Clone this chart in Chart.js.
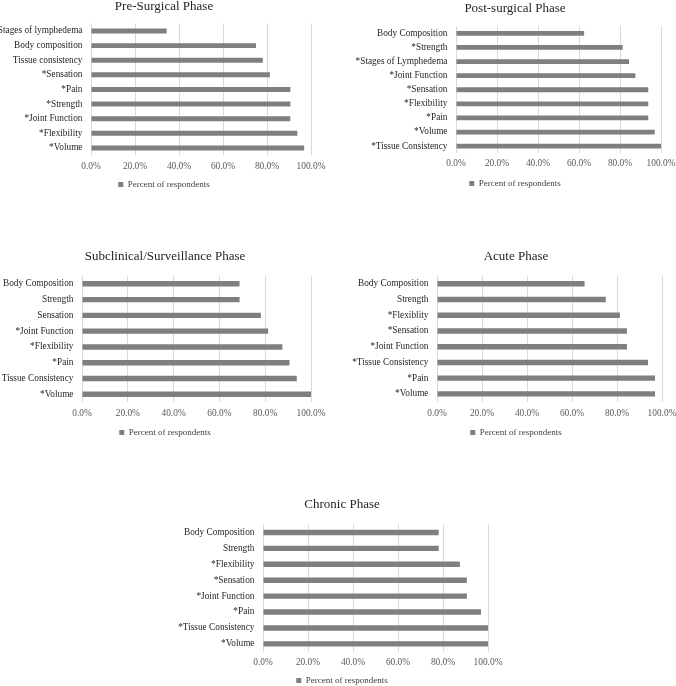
<!DOCTYPE html>
<html>
<head>
<meta charset="utf-8">
<script src="https://cdn.jsdelivr.net/npm/chart.js@4.4.1/dist/chart.umd.min.js"></script>
<style>
  html, body { margin: 0; padding: 0; background: #fff; overflow: hidden; }
  body { width: 676px; height: 686px; position: relative; }
  canvas { position: absolute; }
</style>
</head>
<body>
<canvas id="pre"></canvas>
<canvas id="post"></canvas>
<canvas id="sub"></canvas>
<canvas id="acute"></canvas>
<canvas id="chronic"></canvas>
<script>
// data (percent of respondents)
const tickValues = [0, 20, 40, 60, 80, 100];
const seriesName = 'Percent of respondents';

const preLabels = ['Stages of lymphedema', 'Body composition', 'Tissue consistency', '*Sensation', '*Pain',
    '*Strength', '*Joint Function', '*Flexibility', '*Volume'];
const preValues = [34.4, 75.0, 78.1, 81.3, 90.6, 90.6, 90.6, 93.8, 96.9];

const postLabels = ['Body Composition', '*Strength', '*Stages of Lymphedema', '*Joint Function', '*Sensation',
    '*Flexibility', '*Pain', '*Volume', '*Tissue Consistency'];
const postValues = [62.5, 81.3, 84.4, 87.5, 93.8, 93.8, 93.8, 96.9, 100.0];

const subLabels = ['Body Composition', 'Strength', 'Sensation', '*Joint Function', '*Flexibility', '*Pain',
    'Tissue Consistency', '*Volume'];
const subValues = [68.8, 68.8, 78.1, 81.3, 87.5, 90.6, 93.8, 100.0];

const acuteLabels = ['Body Composition', 'Strength', '*Flexiblity', '*Sensation', '*Joint Function',
    '*Tissue Consistency', '*Pain', '*Volume'];
const acuteValues = [65.6, 75.0, 81.3, 84.4, 84.4, 93.8, 96.9, 96.9];

const chronicLabels = ['Body Composition', 'Strength', '*Flexibility', '*Sensation', '*Joint Function', '*Pain',
    '*Tissue Consistency', '*Volume'];
const chronicValues = [78.1, 78.1, 87.5, 90.6, 90.6, 96.9, 100.0, 100.0];

const FONT = 'Liberation Serif';

// cl/cr: canvas left/right, pl/pr: plot left/right, top/bottom: plot area,
// titleY / tickY / legendY: text centre lines (page coordinates)
function drawPhase(id, title, labels, values, box) {
    const titleLH = 13 * 1.2;
    const cy = box.titleY - titleLH / 2;
    const xH = 16;
    const legendPad = box.legendY - box.bottom - xH - 4.5;
    const legendH = 9 + legendPad + 10;
    const w = box.cr - box.cl;
    const h = box.bottom - cy + xH + legendH;

    const canvas = document.getElementById(id);
    canvas.width = w;
    canvas.height = h;
    canvas.style.left = box.cl + 'px';
    canvas.style.top = cy + 'px';

    return new Chart(canvas.getContext('2d'), {
        type: 'bar',
        data: {
            labels: labels,
            datasets: [{
                label: seriesName,
                data: values,
                backgroundColor: '#7f7f7f',
                borderWidth: 0,
                barPercentage: 0.34,
                categoryPercentage: 1
            }]
        },
        options: {
            indexAxis: 'y',
            responsive: false,
            animation: false,
            devicePixelRatio: 1,
            layout: { padding: 0 },
            scales: {
                x: {
                    min: 0,
                    max: 100,
                    afterBuildTicks: s => { s.ticks = tickValues.map(v => ({ value: v })); },
                    afterFit: s => { s.height = xH; },
                    grid: { color: '#d9d9d9', lineWidth: 1, drawTicks: false },
                    border: { display: false },
                    ticks: {
                        padding: box.tickY - box.bottom - 5.4,
                        color: '#595959',
                        font: { family: FONT, size: 9.4 },
                        maxRotation: 0,
                        callback: v => v.toFixed(1) + '%'
                    }
                },
                y: {
                    afterFit: s => { s.width = box.pl - box.cl; },
                    grid: { display: false, drawTicks: false },
                    border: { display: false },
                    ticks: {
                        autoSkip: false,
                        padding: 8.5,
                        color: '#262626',
                        font: { family: FONT, size: 9.3 }
                    }
                },
                // empty spacer on the right so title and legend stay centred on the canvas
                spacer: {
                    type: 'linear',
                    position: 'right',
                    afterFit: s => { s.width = box.cr - box.pr; },
                    grid: { display: false },
                    border: { display: false },
                    ticks: { display: false }
                }
            },
            plugins: {
                title: {
                    display: true,
                    text: title,
                    color: '#262626',
                    font: { family: FONT, size: 13, weight: 'normal' },
                    padding: { top: 0, bottom: box.top - cy - titleLH }
                },
                legend: {
                    position: 'bottom',
                    labels: {
                        boxWidth: 5,
                        boxHeight: 5,
                        padding: legendPad,
                        color: '#404040',
                        font: { family: FONT, size: 9 }
                    }
                },
                tooltip: { enabled: false }
            }
        }
    });
}

drawPhase('pre', 'Pre-Surgical Phase', preLabels, preValues,
    { cl: -10, cr: 338, pl: 91, pr: 311, titleY: 6.5, top: 23.4, bottom: 155, tickY: 166, legendY: 184.3 });
drawPhase('post', 'Post-surgical Phase', postLabels, postValues,
    { cl: 340, cr: 690, pl: 456, pr: 661, titleY: 8.5, top: 26, bottom: 153, tickY: 163.3, legendY: 183.3 });
drawPhase('sub', 'Subclinical/Surveillance Phase', subLabels, subValues,
    { cl: -10, cr: 340, pl: 82, pr: 311, titleY: 256.3, top: 275.4, bottom: 402, tickY: 413.3, legendY: 432.3 });
drawPhase('acute', 'Acute Phase', acuteLabels, acuteValues,
    { cl: 340, cr: 692, pl: 437, pr: 662, titleY: 256.3, top: 275.4, bottom: 402, tickY: 413.3, legendY: 432.7 });
drawPhase('chronic', 'Chronic Phase', chronicLabels, chronicValues,
    { cl: 170, cr: 514, pl: 263, pr: 488, titleY: 504.6, top: 524.3, bottom: 652, tickY: 662.3, legendY: 680.7 });
</script>
</body>
</html>
